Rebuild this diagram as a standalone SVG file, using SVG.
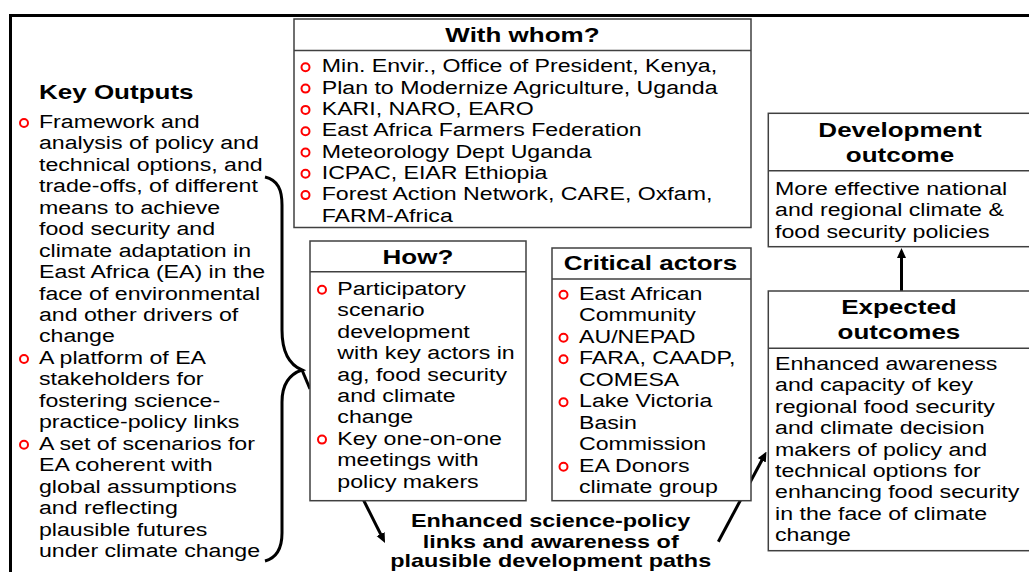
<svg xmlns="http://www.w3.org/2000/svg" width="1029" height="572" viewBox="0 0 1029 572">
<style>
.box{fill:#fff;stroke:#404040;stroke-width:1.5}
.hd{font-family:"Liberation Sans",Arial,sans-serif;font-weight:bold;font-size:20px;fill:#000;text-anchor:middle}
.hl{font-family:"Liberation Sans",Arial,sans-serif;font-weight:bold;font-size:20px;fill:#000}
.bd{font-family:"Liberation Sans",Arial,sans-serif;font-size:17.8px;fill:#000}
.bt{font-family:"Liberation Sans",Arial,sans-serif;font-weight:bold;font-size:18px;fill:#000;text-anchor:middle}
.bu{fill:none;stroke:#ff0000;stroke-width:2}
.cn{fill:none;stroke:#000;stroke-width:3}
</style>
<defs>
<marker id="ah" viewBox="0 0 10 10" markerUnits="userSpaceOnUse" markerWidth="10" markerHeight="10" refX="3" refY="5" orient="auto">
<path d="M0,0.5 L10,5 L0,9.5 z" fill="#000"/>
</marker>
</defs>
<rect x="0" y="0" width="1029" height="572" fill="#fff"/>
<path d="M10.5,572 L10.5,15.5 L1029,15.5" fill="none" stroke="#000" stroke-width="3"/>

<g id="connectors">
<path class="cn" d="M265,177 C278,180 282,190 282,205 L282,330 C282,352 290,365 302,370 C290,374 282,383 282,402 L282,533 C282,550 276,558 265,561"/>
<path class="cn" d="M302,370 L310,389"/>
<path class="cn" d="M901.5,291 L901.5,255" marker-end="url(#ah)"/>
<path class="cn" d="M363.5,500 L381.9,536.7" marker-end="url(#ah)"/>
<path class="cn" d="M718.3,541.7 L763.2,457.7" marker-end="url(#ah)"/>
</g>

<g id="key-outputs">
<g transform="scale(1.3 1)">
<text class="hl" x="30" y="99">Key Outputs</text>
<text class="bd" x="30" y="128">Framework and</text>
<text class="bd" x="30" y="149.45">analysis of policy and</text>
<text class="bd" x="30" y="170.9">technical options, and</text>
<text class="bd" x="30" y="192.35">trade-offs, of different</text>
<text class="bd" x="30" y="213.8">means to achieve</text>
<text class="bd" x="30" y="235.25">food security and</text>
<text class="bd" x="30" y="256.7">climate adaptation in</text>
<text class="bd" x="30" y="278.15">East Africa (EA) in the</text>
<text class="bd" x="30" y="299.6">face of environmental</text>
<text class="bd" x="30" y="321.05">and other drivers of</text>
<text class="bd" x="30" y="342.5">change</text>
<text class="bd" x="30" y="363.95">A platform of EA</text>
<text class="bd" x="30" y="385.4">stakeholders for</text>
<text class="bd" x="30" y="406.85">fostering science-</text>
<text class="bd" x="30" y="428.3">practice-policy links</text>
<text class="bd" x="30" y="449.75">A set of scenarios for</text>
<text class="bd" x="30" y="471.2">EA coherent with</text>
<text class="bd" x="30" y="492.65">global assumptions</text>
<text class="bd" x="30" y="514.1">and reflecting</text>
<text class="bd" x="30" y="535.55">plausible futures</text>
<text class="bd" x="30" y="557">under climate change</text>
</g>
<circle class="bu" cx="24" cy="123" r="4"/>
<circle class="bu" cx="24" cy="359" r="4"/>
<circle class="bu" cx="24" cy="444.8" r="4"/>
</g>

<g id="with-whom">
<rect class="box" x="294" y="19" width="457" height="208.5"/>
<line x1="294" y1="50.5" x2="751" y2="50.5" stroke="#404040" stroke-width="1.5"/>
<g transform="scale(1.3 1)">
<text class="hd" x="401.9" y="42">With whom?</text>
<text class="bd" x="247.5" y="72.5">Min. Envir., Office of President, Kenya,</text>
<text class="bd" x="247.5" y="93.8">Plan to Modernize Agriculture, Uganda</text>
<text class="bd" x="247.5" y="115.1">KARI, NARO, EARO</text>
<text class="bd" x="247.5" y="136.4">East Africa Farmers Federation</text>
<text class="bd" x="247.5" y="157.7">Meteorology Dept Uganda</text>
<text class="bd" x="247.5" y="179">ICPAC, EIAR Ethiopia</text>
<text class="bd" x="247.5" y="200.3">Forest Action Network, CARE, Oxfam,</text>
<text class="bd" x="247.5" y="221.6">FARM-Africa</text>
</g>
<circle class="bu" cx="305.5" cy="67.3" r="4"/>
<circle class="bu" cx="305.5" cy="88.6" r="4"/>
<circle class="bu" cx="305.5" cy="109.9" r="4"/>
<circle class="bu" cx="305.5" cy="131.2" r="4"/>
<circle class="bu" cx="305.5" cy="152.5" r="4"/>
<circle class="bu" cx="305.5" cy="173.8" r="4"/>
<circle class="bu" cx="305.5" cy="195.1" r="4"/>
</g>

<g id="how">
<rect class="box" x="310" y="241" width="216" height="259.7"/>
<line x1="310" y1="271.7" x2="526" y2="271.7" stroke="#404040" stroke-width="1.5"/>
<g transform="scale(1.3 1)">
<text class="hd" x="321.5" y="264.3">How?</text>
<text class="bd" x="259.5" y="295">Participatory</text>
<text class="bd" x="259.5" y="316.4">scenario</text>
<text class="bd" x="259.5" y="337.8">development</text>
<text class="bd" x="259.5" y="359.2">with key actors in</text>
<text class="bd" x="259.5" y="380.6">ag, food security</text>
<text class="bd" x="259.5" y="402">and climate</text>
<text class="bd" x="259.5" y="423.4">change</text>
<text class="bd" x="259.5" y="444.8">Key one-on-one</text>
<text class="bd" x="259.5" y="466.2">meetings with</text>
<text class="bd" x="259.5" y="487.6">policy makers</text>
</g>
<circle class="bu" cx="322" cy="289.8" r="4"/>
<circle class="bu" cx="322" cy="439.6" r="4"/>
</g>

<g id="critical-actors">
<rect class="box" x="552" y="248" width="199" height="252.7"/>
<line x1="552" y1="279" x2="751" y2="279" stroke="#404040" stroke-width="1.5"/>
<g transform="scale(1.3 1)">
<text class="hd" x="500.4" y="270">Critical actors</text>
<text class="bd" x="445.4" y="300">East African</text>
<text class="bd" x="445.4" y="321.5">Community</text>
<text class="bd" x="445.4" y="343">AU/NEPAD</text>
<text class="bd" x="445.4" y="364.5">FARA, CAADP,</text>
<text class="bd" x="445.4" y="386">COMESA</text>
<text class="bd" x="445.4" y="407.5">Lake Victoria</text>
<text class="bd" x="445.4" y="429">Basin</text>
<text class="bd" x="445.4" y="450.5">Commission</text>
<text class="bd" x="445.4" y="472">EA Donors</text>
<text class="bd" x="445.4" y="493.5">climate group</text>
</g>
<circle class="bu" cx="563.5" cy="294.8" r="4"/>
<circle class="bu" cx="563.5" cy="337.8" r="4"/>
<circle class="bu" cx="563.5" cy="359.3" r="4"/>
<circle class="bu" cx="563.5" cy="402.3" r="4"/>
<circle class="bu" cx="563.5" cy="466.8" r="4"/>
</g>

<g id="development-outcome">
<rect class="box" x="768.3" y="113.3" width="280" height="133.4"/>
<line x1="768.3" y1="170.7" x2="1048" y2="170.7" stroke="#404040" stroke-width="1.5"/>
<g transform="scale(1.3 1)">
<text class="hd" x="692.3" y="136.7">Development</text>
<text class="hd" x="692.3" y="161.7">outcome</text>
<text class="bd" x="596.2" y="195">More effective national</text>
<text class="bd" x="596.2" y="216.5">and regional climate &amp;</text>
<text class="bd" x="596.2" y="238">food security policies</text>
</g>
</g>

<g id="expected-outcomes">
<rect class="box" x="768.3" y="291" width="280" height="259.7"/>
<line x1="768.3" y1="348.3" x2="1048" y2="348.3" stroke="#404040" stroke-width="1.5"/>
<g transform="scale(1.3 1)">
<text class="hd" x="691.5" y="314.3">Expected</text>
<text class="hd" x="691.5" y="339">outcomes</text>
<text class="bd" x="596.2" y="370">Enhanced awareness</text>
<text class="bd" x="596.2" y="391.4">and capacity of key</text>
<text class="bd" x="596.2" y="412.8">regional food security</text>
<text class="bd" x="596.2" y="434.2">and climate decision</text>
<text class="bd" x="596.2" y="455.6">makers of policy and</text>
<text class="bd" x="596.2" y="477">technical options for</text>
<text class="bd" x="596.2" y="498.4">enhancing food security</text>
<text class="bd" x="596.2" y="519.8">in the face of climate</text>
<text class="bd" x="596.2" y="541.2">change</text>
</g>
</g>

<g id="enhanced-links">
<g transform="scale(1.3 1)">
<text class="bt" x="423.6" y="527">Enhanced science-policy</text>
<text class="bt" x="423.6" y="548">links and awareness of</text>
<text class="bt" x="423.6" y="567.5">plausible development paths</text>
</g>
</g>
</svg>
